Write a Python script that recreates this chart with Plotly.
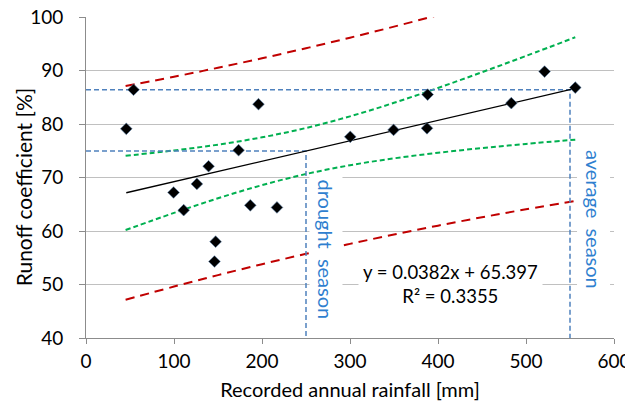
import plotly.graph_objects as go

rainfall = [45.8, 54, 196, 173.4, 139.3, 126, 99.5, 111, 186.7, 217, 147.3, 146,
            300.3, 349.5, 388.2, 387.5, 483.3, 521.1, 556]
runoff = [79.1, 86.4, 83.7, 75.1, 72.1, 68.8, 67.2, 63.9, 64.8, 64.4, 58.0, 54.3,
          77.6, 78.9, 85.5, 79.2, 83.9, 89.8, 86.8]

# Trend line endpoints (y = 0.0382x + 65.397)
trend_x = [45.8, 556]
trend_y = [67.15, 86.64]

# Confidence / prediction bands
band_x = [45, 100, 150, 200, 250, 300, 350, 400, 450, 500, 556]
conf_upper = [74.06, 75.06, 76.14, 77.51, 79.25, 81.43, 83.96, 86.74, 89.68, 92.72, 96.21]
conf_lower = [60.18, 63.38, 66.12, 68.57, 70.65, 72.29, 73.58, 74.62, 75.50, 76.28, 77.07]
pred_upper = [87.09, 88.83, 90.51, 92.29, 94.16, 96.13, 98.20, 100.36, 102.61, 104.95, 107.66]
pred_lower = [47.15, 49.61, 51.75, 53.79, 55.74, 57.59, 59.34, 61.00, 62.57, 64.05, 65.62]

# Season guide lines
drought_x = [0, 250, 250]
drought_y = [74.95, 74.95, 40]
average_x = [0, 550, 550]
average_y = [86.41, 86.41, 40]

x_ticks = [0, 100, 200, 300, 400, 500, 600]
y_ticks = [40, 50, 60, 70, 80, 90, 100]

FONT = "Lato"
FS = 20
BLUE_LINE = "#4F81BD"
BLUE_TEXT = "#2F7FCF"

fig = go.Figure()

fig.add_trace(go.Scatter(x=band_x, y=pred_upper, mode="lines", line_shape="spline",
                         line=dict(color="#C00000", width=2, dash="9px,6px")))
fig.add_trace(go.Scatter(x=band_x, y=pred_lower, mode="lines", line_shape="spline",
                         line=dict(color="#C00000", width=2, dash="9px,6px")))
fig.add_trace(go.Scatter(x=band_x, y=conf_upper, mode="lines", line_shape="spline",
                         line=dict(color="#00B050", width=2, dash="5px,3px")))
fig.add_trace(go.Scatter(x=band_x, y=conf_lower, mode="lines", line_shape="spline",
                         line=dict(color="#00B050", width=2, dash="5px,3px")))
fig.add_trace(go.Scatter(x=drought_x, y=drought_y, mode="lines",
                         line=dict(color=BLUE_LINE, width=1.5, dash="5px,3px")))
fig.add_trace(go.Scatter(x=average_x, y=average_y, mode="lines",
                         line=dict(color=BLUE_LINE, width=1.5, dash="5px,3px")))
fig.add_trace(go.Scatter(x=trend_x, y=trend_y, mode="lines",
                         line=dict(color="black", width=1.3)))
fig.add_trace(go.Scatter(x=rainfall, y=runoff, mode="markers",
                         marker=dict(symbol="diamond", size=9, color="black",
                                     line=dict(color="#5B7FA8", width=0.6))))

fig.add_annotation(x=273, y=56.5, xref="x", yref="y", text="drought  season",
                   textangle=90, showarrow=False, bgcolor="white",
                   font=dict(family=FONT, size=FS, color=BLUE_TEXT), borderpad=4)
fig.add_annotation(x=577, y=62.1, xref="x", yref="y", text="average  season",
                   textangle=90, showarrow=False, bgcolor="white",
                   font=dict(family=FONT, size=FS, color=BLUE_TEXT), borderpad=4)
fig.add_annotation(x=414, y=50.15, xref="x", yref="y",
                   text="y = 0.0382x + 65.397<br>R² = 0.3355",
                   showarrow=False, bgcolor="white", align="center",
                   font=dict(family=FONT, size=18.5, color="black"), borderpad=4)
# Y-axis title (placed like the reference, slightly below the plot middle)
fig.add_annotation(x=-0.119, y=0.47, xref="paper", yref="paper",
                   xanchor="center", yanchor="middle",
                   text="Runoff coefficient [%]", textangle=-90, showarrow=False,
                   font=dict(family=FONT, size=21, color="black"))

# The page body adds an 8px offset, so the figure is sized to fit the window.
fig.update_layout(
    width=625, height=400,
    margin=dict(l=78, r=19, t=9, b=70, autoexpand=False),
    paper_bgcolor="white", plot_bgcolor="white",
    showlegend=False,
    font=dict(family=FONT, size=FS, color="black"),
    xaxis=dict(range=[0, 600], tickvals=x_ticks, ticktext=[str(v) for v in x_ticks],
               showgrid=False, zeroline=False, showline=True, linecolor="#8C8C8C",
               linewidth=1, ticks="outside", ticklen=5, tickcolor="#8C8C8C",
               tickfont=dict(family=FONT, size=19),
               ticklabelstandoff=1, automargin=False, ticklabeloverflow="allow",
               title=dict(text="Recorded annual rainfall [mm]", standoff=12,
                          font=dict(family=FONT, size=FS))),
    yaxis=dict(range=[40, 100], tickvals=y_ticks, ticktext=[str(v) for v in y_ticks],
               showgrid=True, gridcolor="#C0C0C0", gridwidth=1, zeroline=False,
               showline=True, linecolor="#8C8C8C", linewidth=1,
               ticks="outside", ticklen=6, tickcolor="#8C8C8C", ticklabelstandoff=12,
               tickfont=dict(family=FONT, size=19),
               automargin=False, ticklabeloverflow="allow"),
)

fig.write_html("out.html")
